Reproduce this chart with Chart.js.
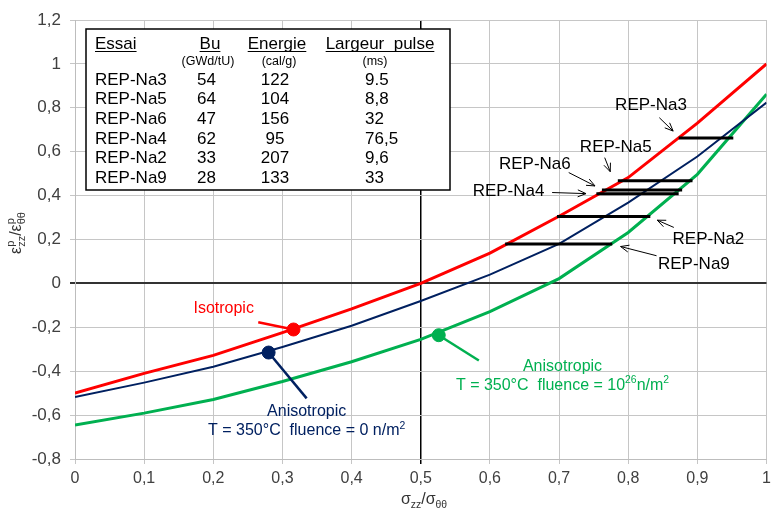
<!DOCTYPE html>
<html>
<head>
<meta charset="utf-8">
<script src="https://cdn.jsdelivr.net/npm/chart.js@4.4.1/dist/chart.umd.min.js"></script>
<style>
  html, body { margin: 0; padding: 0; background: #fff; }
  canvas { display: block; }
</style>
</head>
<body>
<canvas id="myChart" width="774" height="510"></canvas>
<script>
// stress ratio on the x axis
const xValues = [0, 0.1, 0.2, 0.3, 0.4, 0.5, 0.6, 0.7, 0.8, 0.9, 1];
const isotropic = [-0.5, -0.41, -0.328, -0.224, -0.116, 0, 0.138, 0.306, 0.482, 0.73, 1.0];
const anisoFluence0 = [-0.518, -0.452, -0.38, -0.29, -0.193, -0.08, 0.04, 0.18, 0.368, 0.578, 0.824];
const anisoFluence26 = [-0.645, -0.591, -0.529, -0.447, -0.357, -0.255, -0.129, 0.022, 0.232, 0.497, 0.862];

// tests (horizontal bars)
const essai = ['REP-Na3', 'REP-Na5', 'REP-Na6', 'REP-Na4', 'REP-Na2', 'REP-Na9'];
const bu = ['54', '64', '47', '62', '33', '28'];
const energie = ['122', '104', '156', '95', '207', '133'];
const largeurPulse = ['9.5', '8,8', '32', '76,5', '9,6', '33'];
const barStart = [0.873, 0.785, 0.762, 0.754, 0.697, 0.622];
const barEnd = [0.952, 0.893, 0.878, 0.873, 0.832, 0.777];
const barLevel = [0.662, 0.468, 0.426, 0.408, 0.305, 0.179];

// marker points on each curve
const isoMarker = [0.316, -0.21];
const aniso0Marker = [0.28, -0.315];
const aniso26Marker = [0.526, -0.236];

const xTickLabels = ['0', '0,1', '0,2', '0,3', '0,4', '0,5', '0,6', '0,7', '0,8', '0,9', '1'];
const yTickLabels = ['-0,8', '-0,6', '-0,4', '-0,2', '0', '0,2', '0,4', '0,6', '0,8', '1', '1,2'];

const RED = '#ff0000', NAVY = '#002060', GREEN = '#00b050';
const FONT = '"Liberation Sans", Arial, sans-serif';

function pts(xs, ys) {
    return xs.map((v, i) => ({ x: v, y: ys[i] }));
}

// callouts: text lines, anchor in data coords, colour
const notes = [
    { color: RED, at: [0.215, -0.107], lines: [[{ t: 'Isotropic' }]], leader: [[0.265, -0.177], isoMarker] },
    { color: NAVY, at: [0.335, -0.578], lines: [[{ t: 'Anisotropic' }], [{ t: 'T = 350°C  fluence = 0 n/m' }, { t: '2', sup: true }]], leader: [aniso0Marker, [0.335, -0.524]] },
    { color: GREEN, at: [0.705, -0.37], lines: [[{ t: 'Anisotropic' }], [{ t: 'T = 350°C  fluence = 10' }, { t: '26', sup: true }, { t: 'n/m' }, { t: '2', sup: true }]], leader: [aniso26Marker, [0.584, -0.351]] }
];

const repLabels = [
    { at: [0.833, 0.818], from: [0.845, 0.755], to: [0.865, 0.694] },
    { at: [0.782, 0.626], from: [0.766, 0.573], to: [0.774, 0.509] },
    { at: [0.665, 0.55], from: [0.714, 0.505], to: [0.752, 0.444] },
    { at: [0.627, 0.425], from: [0.690, 0.414], to: [0.739, 0.409] },
    { at: [0.916, 0.209], from: [0.866, 0.255], to: [0.842, 0.288] },
    { at: [0.895, 0.095], from: [0.841, 0.126], to: [0.789, 0.168] }
];

function drawRuns(ctx, runs, cx, base, size) {
    let w = 0;
    runs.forEach(r => {
        ctx.font = (r.sup || r.sub ? size * 0.65 : size) + 'px ' + FONT;
        r.w = ctx.measureText(r.t).width;
        w += r.w;
    });
    let x = cx - w / 2;
    runs.forEach(r => {
        ctx.font = (r.sup || r.sub ? size * 0.65 : size) + 'px ' + FONT;
        const dy = r.sup ? -size * 0.42 : (r.sub ? size * 0.25 : 0);
        ctx.fillText(r.t, x, base + dy);
        x += r.w;
    });
}

function arrow(ctx, x1, y1, x2, y2) {
    const a = Math.atan2(y2 - y1, x2 - x1), h = 9;
    ctx.beginPath();
    ctx.moveTo(x1, y1);
    ctx.lineTo(x2, y2);
    ctx.moveTo(x2 - h * Math.cos(a - 0.4), y2 - h * Math.sin(a - 0.4));
    ctx.lineTo(x2, y2);
    ctx.lineTo(x2 - h * Math.cos(a + 0.4), y2 - h * Math.sin(a + 0.4));
    ctx.stroke();
}

const overlay = {
    id: 'overlay',
    afterDatasetsDraw(chart) {
        const { ctx, scales: { x, y } } = chart;
        const px = v => x.getPixelForValue(v), py = v => y.getPixelForValue(v);
        ctx.save();
        ctx.textBaseline = 'alphabetic';

        // table box
        ctx.fillStyle = '#fff';
        ctx.fillRect(86, 29, 364, 161);
        ctx.strokeStyle = '#000';
        ctx.lineWidth = 1.5;
        ctx.strokeRect(86, 29, 364, 161);

        ctx.fillStyle = '#000';
        ctx.lineWidth = 1;
        const heads = [['Essai', 95, 'left'], ['Bu', 210, 'center'], ['Energie', 277, 'center'], ['Largeur  pulse', 380, 'center']];
        ctx.font = '17px ' + FONT;
        heads.forEach(([t, hx, al]) => {
            ctx.textAlign = al;
            ctx.fillText(t, hx, 49);
            const w = ctx.measureText(t).width;
            const x0 = al === 'left' ? hx : hx - w / 2;
            ctx.beginPath();
            ctx.moveTo(x0, 51.5);
            ctx.lineTo(x0 + w, 51.5);
            ctx.stroke();
        });
        ctx.font = '12.5px ' + FONT;
        ctx.textAlign = 'center';
        ctx.fillText('(GWd/tU)', 208, 65);
        ctx.fillText('(cal/g)', 279, 65);
        ctx.fillText('(ms)', 375, 65);
        ctx.font = '17px ' + FONT;
        essai.forEach((e, i) => {
            const by = 84.5 + i * 19.7;
            ctx.textAlign = 'left';
            ctx.fillText(e, 95, by);
            ctx.fillText(bu[i], 197, by);
            ctx.fillText(largeurPulse[i], 365, by);
            ctx.textAlign = 'center';
            ctx.fillText(energie[i], 275, by);
        });

        // REP labels with arrows
        repLabels.forEach((r, i) => {
            ctx.font = '17px ' + FONT;
            ctx.textAlign = 'center';
            ctx.fillStyle = '#000';
            ctx.fillText(essai[i], px(r.at[0]), py(r.at[1]) + 6);
            ctx.strokeStyle = '#000';
            ctx.lineWidth = 1;
            arrow(ctx, px(r.from[0]), py(r.from[1]), px(r.to[0]), py(r.to[1]));
        });

        // curve callouts
        notes.forEach(n => {
            ctx.fillStyle = n.color;
            ctx.textAlign = 'left';
            n.lines.forEach((ln, k) => {
                drawRuns(ctx, ln, px(n.at[0]), py(n.at[1]) + 6 + k * 19, 16);
            });
        });
        ctx.restore();
    },
    afterDraw(chart) {
        const ctx = chart.ctx;
        ctx.save();
        ctx.fillStyle = '#333';
        ctx.textAlign = 'left';
        // x axis title
        drawRuns(ctx, [{ t: 'σ' }, { t: 'zz', sub: true }, { t: '/σ' }, { t: 'θθ', sub: true }], 424, 504, 16);
        // y axis title, rotated
        ctx.translate(21, 233);
        ctx.rotate(-Math.PI / 2);
        const parts = [['ε', 'p', 'zz'], ['/ε', 'p', 'θθ']];
        let total = 0;
        parts.forEach(p => {
            ctx.font = '16px ' + FONT;
            const a = ctx.measureText(p[0]).width;
            ctx.font = '11px ' + FONT;
            total += a + Math.max(ctx.measureText(p[1]).width, ctx.measureText(p[2]).width);
        });
        let cx = -total / 2;
        parts.forEach(p => {
            ctx.font = '16px ' + FONT;
            ctx.fillText(p[0], cx, 0);
            cx += ctx.measureText(p[0]).width;
            ctx.font = '11px ' + FONT;
            ctx.fillText(p[1], cx, -7);
            ctx.fillText(p[2], cx, 4);
            cx += Math.max(ctx.measureText(p[1]).width, ctx.measureText(p[2]).width);
        });
        ctx.restore();
    }
};

const datasets = [];
barLevel.forEach((lv, i) => {
    datasets.push({
        data: [{ x: barStart[i], y: lv }, { x: barEnd[i], y: lv }],
        showLine: true, borderColor: '#000', borderWidth: 3, pointRadius: 0, order: 0
    });
});
[[isoMarker, RED], [aniso0Marker, NAVY], [aniso26Marker, GREEN]].forEach(([m, c]) => {
    datasets.push({ data: [{ x: m[0], y: m[1] }], pointRadius: 6.5, pointBackgroundColor: c, pointBorderColor: c, order: 1 });
});
notes.forEach(n => {
    datasets.push({
        data: n.leader.map(p => ({ x: p[0], y: p[1] })),
        showLine: true, borderColor: n.color, borderWidth: 2.5, pointRadius: 0, order: 2
    });
});
datasets.push({ label: 'Isotropic', data: pts(xValues, isotropic), showLine: true, borderColor: RED, borderWidth: 3, pointRadius: 0, order: 3 });
datasets.push({ label: 'Anisotropic 0', data: pts(xValues, anisoFluence0), showLine: true, borderColor: NAVY, borderWidth: 2, pointRadius: 0, order: 4 });
datasets.push({ label: 'Anisotropic 1e26', data: pts(xValues, anisoFluence26), showLine: true, borderColor: GREEN, borderWidth: 3, pointRadius: 0, order: 5 });

Chart.defaults.font.family = FONT;

new Chart(document.getElementById('myChart').getContext('2d'), {
    type: 'scatter',
    data: { datasets: datasets },
    options: {
        responsive: false,
        animation: false,
        layout: { padding: { top: 20, right: 3, left: 0, bottom: 0 } },
        plugins: { legend: { display: false }, tooltip: { enabled: false } },
        scales: {
            x: {
                type: 'linear', min: 0, max: 1,
                ticks: {
                    stepSize: 0.1, color: '#404040', padding: 5,
                    font: { size: 16 }, maxRotation: 0,
                    callback: (v, i) => xTickLabels[i]
                },
                grid: {
                    color: c => (c.tick && Math.abs(c.tick.value - 0.5) < 1e-6) ? '#000' : '#c6c6c6',
                    lineWidth: c => (c.tick && Math.abs(c.tick.value - 0.5) < 1e-6) ? 1.5 : 1,
                    tickLength: 5
                },
                border: { color: '#bdbdbd' },
                afterFit: s => { s.height = 51; s.paddingLeft = 0; s.paddingRight = 0; }
            },
            y: {
                type: 'linear', min: -0.8, max: 1.2,
                ticks: {
                    stepSize: 0.2, color: '#404040', padding: 9,
                    font: { size: 17 },
                    callback: (v, i) => yTickLabels[i]
                },
                grid: {
                    color: c => (c.tick && Math.abs(c.tick.value) < 1e-6) ? '#333' : '#c6c6c6',
                    lineWidth: c => (c.tick && Math.abs(c.tick.value) < 1e-6) ? 2 : 1,
                    tickLength: 5
                },
                border: { color: '#bdbdbd' },
                afterFit: s => { s.width = 75; s.paddingTop = 0; s.paddingBottom = 0; }
            }
        }
    },
    plugins: [overlay]
});
</script>
</body>
</html>
